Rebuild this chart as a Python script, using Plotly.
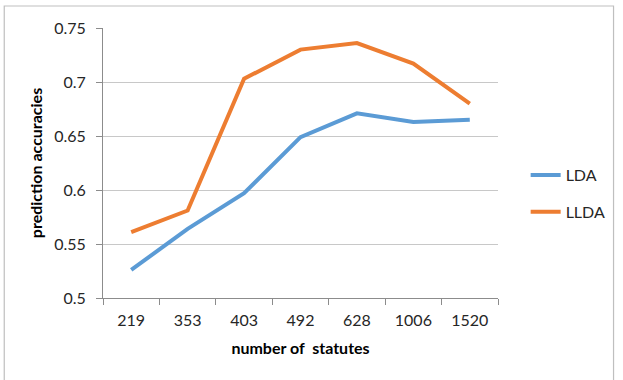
import plotly.graph_objects as go

# Number of statutes (category labels on the x axis)
statutes = ["219", "353", "403", "492", "628", "1006", "1520"]

# Prediction accuracies per model
lda = [0.526, 0.564, 0.597, 0.649, 0.671, 0.663, 0.665]
llda = [0.561, 0.581, 0.703, 0.730, 0.736, 0.717, 0.680]

y_ticks = [0.5, 0.55, 0.6, 0.65, 0.7, 0.75]
y_tick_text = ["0.5", "0.55", "0.6", "0.65", "0.7", "0.75"]

FONT = "Lato"
BLUE = "#5B9BD5"
ORANGE = "#ED7D31"

fig = go.Figure()
fig.add_trace(go.Scatter(x=statutes, y=lda, mode="lines", name="LDA",
                         legendgroup="a",
                         line=dict(color=BLUE, width=4)))
fig.add_trace(go.Scatter(x=statutes, y=llda, mode="lines", name="LLDA",
                         legendgroup="b",
                         line=dict(color=ORANGE, width=4)))

W, H = 623, 380
ml, mr, mt, mb = 103, 120, 28, 82
pw, ph = W - ml - mr, H - mt - mb

fig.update_layout(
    width=W, height=H,
    margin=dict(l=ml, r=mr, t=mt, b=mb),
    paper_bgcolor="white", plot_bgcolor="white",
    font=dict(family=FONT, size=16, color="#262626"),
    showlegend=True,
    legend=dict(x=(531 - ml) / pw, y=(298 - 158) / ph, xanchor="left", yanchor="top",
                bgcolor="rgba(0,0,0,0)", borderwidth=0,
                font=dict(family=FONT, size=16, color="#262626"),
                tracegroupgap=13, itemwidth=30),
    xaxis=dict(
        type="category", range=[-0.5, 6.5],
        tickson="boundaries", ticks="outside", ticklen=6, tickcolor="#8c8c8c",
        ticklabelstandoff=8,
        showline=True, linecolor="#8c8c8c", linewidth=1,
        showgrid=False, zeroline=False,
        tickfont=dict(family=FONT, size=16, color="#262626"),
        title=dict(text="<b>number of  statutes</b>", standoff=14,
                   font=dict(family=FONT, size=16, color="#000000")),
    ),
    yaxis=dict(
        range=[0.5, 0.75], tickvals=y_ticks, ticktext=y_tick_text,
        ticks="outside", ticklen=6, tickcolor="#8c8c8c",
        ticklabelstandoff=7,
        showline=True, linecolor="#8c8c8c", linewidth=1,
        showgrid=True, gridcolor="#c8c8c8", gridwidth=1, zeroline=False,
        tickfont=dict(family=FONT, size=16, color="#262626"),
        title=dict(text="<b>prediction accuracies</b>", standoff=7,
                   font=dict(family=FONT, size=16, color="#000000")),
    ),
    shapes=[dict(type="rect", xref="paper", yref="paper",
                 x0=(3 - ml) / pw, x1=(620 - ml) / pw,
                 y0=(298 - 392) / ph, y1=(298 - 6) / ph,
                 line=dict(color="#bfbfbf", width=1.2), fillcolor="rgba(0,0,0,0)",
                 layer="below")],
)

fig.write_html("out.html")
